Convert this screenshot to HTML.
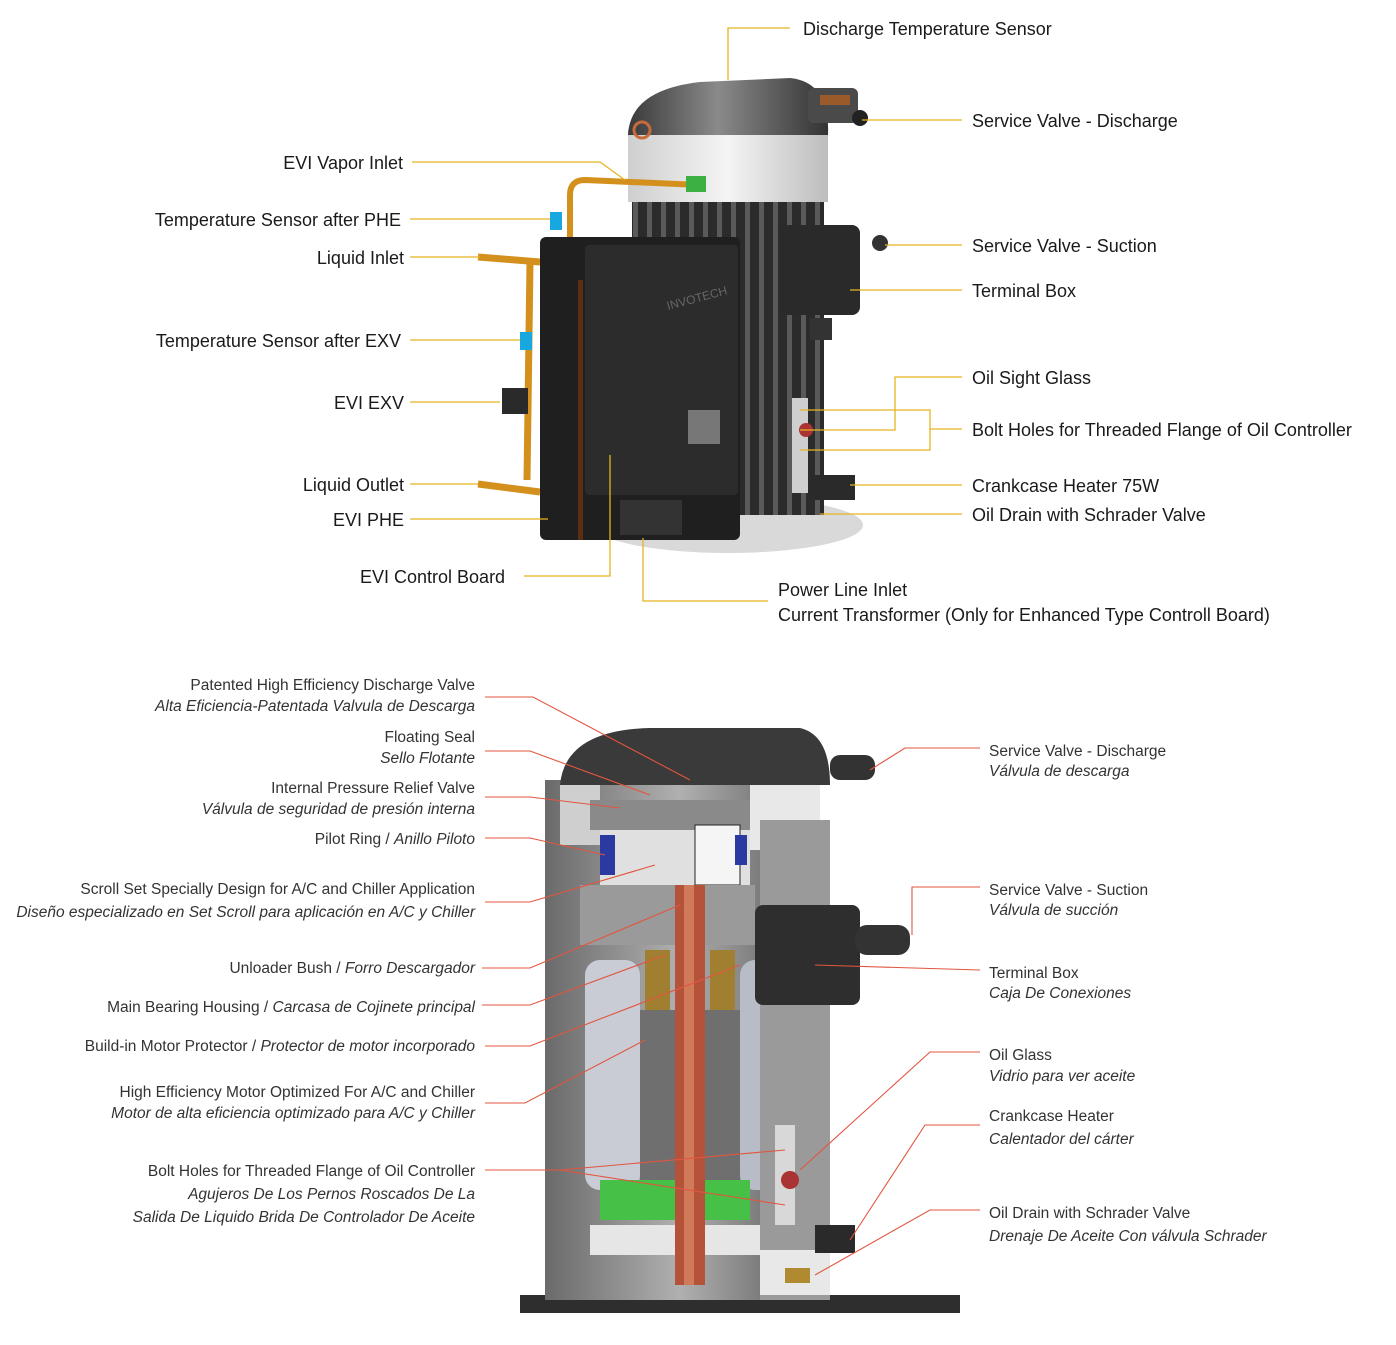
<!DOCTYPE html>
<html><head><meta charset="utf-8"><style>
html,body{margin:0;padding:0;background:#fff}
svg{display:block}
.t{font-family:"Liberation Sans",sans-serif;font-size:18px;fill:#1a1a1a}
.b{font-family:"Liberation Sans",sans-serif;font-size:15.5px;fill:#333}
.i{font-style:italic}
.g{stroke:#e6b422;stroke-width:1.3;fill:none}
.r{stroke:#e2553f;stroke-width:1.1;fill:none}
</style></head><body>
<svg width="1396" height="1345" viewBox="0 0 1396 1345" xmlns="http://www.w3.org/2000/svg">
<defs>
<linearGradient id="body" x1="0" x2="1"><stop offset="0" stop-color="#2a2a2a"/><stop offset=".5" stop-color="#555"/><stop offset="1" stop-color="#222"/></linearGradient>
<linearGradient id="dome" x1="0" x2="1"><stop offset="0" stop-color="#3a3a3a"/><stop offset=".45" stop-color="#8a8a8a"/><stop offset="1" stop-color="#333"/></linearGradient>
<linearGradient id="ring" x1="0" x2="1"><stop offset="0" stop-color="#cfcfcf"/><stop offset=".5" stop-color="#f4f4f4"/><stop offset="1" stop-color="#bdbdbd"/></linearGradient>
<linearGradient id="shell" x1="0" x2="1"><stop offset="0" stop-color="#6a6a6a"/><stop offset=".5" stop-color="#b0b0b0"/><stop offset="1" stop-color="#5a5a5a"/></linearGradient>
<pattern id="ribs" width="14" height="10" patternUnits="userSpaceOnUse"><rect width="14" height="10" fill="#2b2b2b"/><rect x="3" width="5" height="10" fill="#5a5a5a"/></pattern>
</defs>

<!-- ===== TOP COMPRESSOR ===== -->
<ellipse cx="728" cy="525" rx="135" ry="28" fill="#d9d9d9"/>
<rect x="632" y="195" width="192" height="320" fill="url(#ribs)"/>
<rect x="628" y="130" width="200" height="72" fill="url(#ring)"/>
<path d="M628 135 Q630 90 700 82 L790 78 Q830 82 828 135 Z" fill="url(#dome)"/>
<rect x="808" y="88" width="50" height="35" rx="6" fill="#4a4a4a"/>
<circle cx="860" cy="118" r="8" fill="#222"/>
<rect x="820" y="95" width="30" height="10" fill="#9a5a2a"/>
<circle cx="642" cy="130" r="8" fill="none" stroke="#c86b3a" stroke-width="3"/>
<!-- pipes -->
<path d="M700 185 L585 180 Q570 180 570 195 L570 240" stroke="#d4901c" stroke-width="6" fill="none"/>
<path d="M478 257 L540 262 M530 262 L527 480 M478 484 L540 492" stroke="#d4901c" stroke-width="7" fill="none"/>
<rect x="686" y="176" width="20" height="16" fill="#3cb043"/>
<rect x="550" y="212" width="12" height="18" fill="#18a8e0"/>
<rect x="520" y="332" width="12" height="18" fill="#18a8e0"/>
<rect x="502" y="388" width="26" height="26" fill="#2a2a2a"/>
<!-- control box -->
<rect x="540" y="237" width="200" height="303" rx="6" fill="#1f1f1f"/>
<rect x="578" y="280" width="5" height="260" fill="#5a2e12"/>
<rect x="585" y="245" width="153" height="250" rx="4" fill="#2c2c2c"/>
<rect x="688" y="410" width="32" height="34" fill="#777"/>
<text x="668" y="310" font-family="Liberation Sans" font-size="12" fill="#666" transform="rotate(-15 668 310)">INVOTECH</text>
<rect x="620" y="500" width="62" height="35" fill="#333"/>
<!-- terminal box -->
<rect x="780" y="225" width="80" height="90" rx="8" fill="#2a2a2a"/>
<circle cx="880" cy="243" r="8" fill="#333"/>
<rect x="810" y="318" width="22" height="22" fill="#333"/>
<rect x="792" y="398" width="16" height="95" fill="#cfcfcf"/>
<circle cx="806" cy="430" r="7" fill="#a33"/>
<rect x="810" y="475" width="45" height="25" fill="#2a2a2a"/>

<!-- top leader lines -->
<path class="g" d="M728 80 V28 H790"/>
<path class="g" d="M862 120 H962"/>
<path class="g" d="M412 162 H600 L625 180"/>
<path class="g" d="M410 219 H550"/>
<path class="g" d="M410 257 H480"/>
<path class="g" d="M885 245 H962"/>
<path class="g" d="M850 290 H962"/>
<path class="g" d="M410 340 H520"/>
<path class="g" d="M962 377 H895 V430 H800"/>
<path class="g" d="M962 429 H930 V410 H800 M930 429 V450 H800"/>
<path class="g" d="M410 402 H500"/>
<path class="g" d="M850 485 H962"/>
<path class="g" d="M410 484 H478"/>
<path class="g" d="M820 514 H962"/>
<path class="g" d="M410 519 H548"/>
<path class="g" d="M524 576 H610 V455"/>
<path class="g" d="M643 538 V601 H768"/>

<!-- top labels -->
<text class="t" x="803" y="35">Discharge Temperature Sensor</text>
<text class="t" x="972" y="127">Service Valve - Discharge</text>
<text class="t" x="403" y="169" text-anchor="end">EVI Vapor Inlet</text>
<text class="t" x="401" y="226" text-anchor="end">Temperature Sensor after PHE</text>
<text class="t" x="404" y="264" text-anchor="end">Liquid Inlet</text>
<text class="t" x="972" y="252">Service Valve - Suction</text>
<text class="t" x="972" y="297">Terminal Box</text>
<text class="t" x="401" y="347" text-anchor="end">Temperature Sensor after EXV</text>
<text class="t" x="972" y="384">Oil Sight Glass</text>
<text class="t" x="972" y="436">Bolt Holes for Threaded Flange of Oil Controller</text>
<text class="t" x="404" y="409" text-anchor="end">EVI EXV</text>
<text class="t" x="972" y="492">Crankcase Heater 75W</text>
<text class="t" x="404" y="491" text-anchor="end">Liquid Outlet</text>
<text class="t" x="972" y="521">Oil Drain with Schrader Valve</text>
<text class="t" x="404" y="526" text-anchor="end">EVI PHE</text>
<text class="t" x="360" y="583">EVI Control Board</text>
<text class="t" x="778" y="596">Power Line Inlet</text>
<text class="t" x="778" y="621">Current Transformer (Only for Enhanced Type Controll Board)</text>

<!-- ===== BOTTOM CUTAWAY ===== -->
<rect x="520" y="1295" width="440" height="18" fill="#2e2e2e"/>
<rect x="545" y="780" width="270" height="520" fill="url(#shell)"/>
<path d="M560 785 Q565 730 650 728 L800 728 Q830 735 830 785 Z" fill="#3a3a3a"/>
<rect x="750" y="785" width="70" height="65" fill="#e8e8e8"/>
<rect x="560" y="785" width="40" height="60" fill="#cfcfcf"/>
<rect x="590" y="800" width="160" height="30" fill="#8a8a8a"/>
<rect x="600" y="830" width="150" height="55" fill="#e0e0e0"/>
<rect x="695" y="825" width="45" height="60" fill="#f5f5f5" stroke="#222" stroke-width="1"/>
<rect x="600" y="835" width="15" height="40" fill="#2a3aa0"/>
<rect x="735" y="835" width="12" height="30" fill="#2a3aa0"/>
<rect x="580" y="885" width="175" height="60" fill="#9a9a9a"/>
<rect x="645" y="950" width="25" height="60" fill="#a08030"/>
<rect x="710" y="950" width="25" height="60" fill="#a08030"/>
<rect x="585" y="960" width="55" height="230" rx="15" fill="#c9ccd4"/>
<rect x="740" y="960" width="50" height="230" rx="15" fill="#b8bcc6"/>
<rect x="640" y="1010" width="100" height="170" fill="#6f6f6f"/>
<rect x="600" y="1180" width="150" height="40" fill="#46c046"/>
<rect x="590" y="1225" width="170" height="30" fill="#e6e6e6"/>
<rect x="675" y="885" width="30" height="400" fill="#b5533a"/>
<rect x="684" y="885" width="10" height="400" fill="#d07a5a"/>
<rect x="760" y="820" width="70" height="480" fill="#9a9a9a"/>
<rect x="775" y="1125" width="20" height="100" fill="#d8d8d8"/>
<circle cx="790" cy="1180" r="9" fill="#a33"/>
<rect x="760" y="1250" width="70" height="45" fill="#e8e8e8"/>
<rect x="785" y="1268" width="25" height="15" fill="#b08a30"/>
<rect x="815" y="1225" width="40" height="28" fill="#2a2a2a"/>
<rect x="755" y="905" width="105" height="100" rx="8" fill="#2e2e2e"/>
<rect x="855" y="925" width="55" height="30" rx="12" fill="#333"/>
<rect x="830" y="755" width="45" height="25" rx="10" fill="#333"/>

<!-- bottom leader lines -->
<path class="r" d="M485 697 H533 L690 780"/>
<path class="r" d="M485 751 H530 L650 795"/>
<path class="r" d="M485 797 H530 L620 808"/>
<path class="r" d="M485 838 H530 L605 855"/>
<path class="r" d="M485 902 H530 L655 865"/>
<path class="r" d="M482 968 H530 L680 905"/>
<path class="r" d="M482 1005 H530 L665 955"/>
<path class="r" d="M485 1046 H530 L740 965"/>
<path class="r" d="M485 1103 H525 L645 1040"/>
<path class="r" d="M485 1170 H560 L785 1150 M560 1170 L785 1205"/>
<path class="r" d="M980 748 H905 L870 770"/>
<path class="r" d="M980 887 H912 V935"/>
<path class="r" d="M980 970 L815 965"/>
<path class="r" d="M980 1052 H930 L800 1170"/>
<path class="r" d="M980 1125 H925 L850 1240"/>
<path class="r" d="M980 1210 H930 L815 1275"/>

<!-- bottom labels -->
<g class="b" text-anchor="end">
<text x="475" y="690">Patented High Efficiency Discharge Valve</text>
<text x="475" y="711" class="i">Alta Eficiencia-Patentada Valvula de Descarga</text>
<text x="475" y="742">Floating Seal</text>
<text x="475" y="763" class="i">Sello Flotante</text>
<text x="475" y="793">Internal Pressure Relief Valve</text>
<text x="475" y="814" class="i">Válvula de seguridad de presión interna</text>
<text x="475" y="844">Pilot Ring / <tspan font-style="italic">Anillo Piloto</tspan></text>
<text x="475" y="894">Scroll Set Specially Design for A/C and Chiller Application</text>
<text x="475" y="917" class="i">Diseño especializado en Set Scroll para aplicación en A/C y Chiller</text>
<text x="475" y="973">Unloader Bush / <tspan font-style="italic">Forro Descargador</tspan></text>
<text x="475" y="1012">Main Bearing Housing / <tspan font-style="italic">Carcasa de Cojinete principal</tspan></text>
<text x="475" y="1051">Build-in Motor Protector / <tspan font-style="italic">Protector de motor incorporado</tspan></text>
<text x="475" y="1097">High Efficiency Motor Optimized For A/C and Chiller</text>
<text x="475" y="1118" class="i">Motor de alta eficiencia optimizado para A/C y Chiller</text>
<text x="475" y="1176">Bolt Holes for Threaded Flange of Oil Controller</text>
<text x="475" y="1199" class="i">Agujeros De Los Pernos Roscados De La</text>
<text x="475" y="1222" class="i">Salida De Liquido  Brida De Controlador De Aceite</text>
</g>
<g class="b">
<text x="989" y="756">Service Valve - Discharge</text>
<text x="989" y="776" class="i">Válvula de descarga</text>
<text x="989" y="895">Service Valve - Suction</text>
<text x="989" y="915" class="i">Válvula de succión</text>
<text x="989" y="978">Terminal Box</text>
<text x="989" y="998" class="i">Caja De Conexiones</text>
<text x="989" y="1060">Oil Glass</text>
<text x="989" y="1081" class="i">Vidrio para ver aceite</text>
<text x="989" y="1121">Crankcase Heater</text>
<text x="989" y="1144" class="i">Calentador del cárter</text>
<text x="989" y="1218">Oil Drain with Schrader Valve</text>
<text x="989" y="1241" class="i">Drenaje De Aceite Con válvula Schrader</text>
</g>
</svg>
</body></html>
